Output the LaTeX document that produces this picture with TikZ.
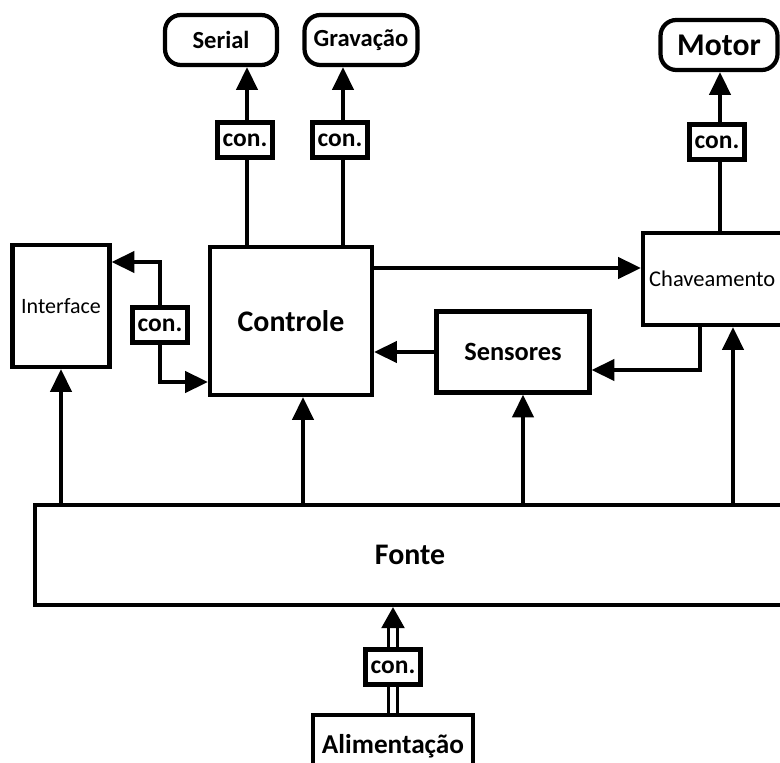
\documentclass[tikz,border=0pt]{standalone}
\usepackage{fontspec}
\setmainfont{Carlito}
\usetikzlibrary{arrows.meta}
\tikzset{
  blk/.style={draw,line width=2.4pt,inner sep=0pt,fill=white,font=\bfseries\fontsize{17}{20}\selectfont},
  ext/.style={blk,rounded corners=9pt,minimum height=1cm,font=\bfseries\fontsize{14}{16}\selectfont},
  conbox/.style={blk,minimum width=1.1cm,minimum height=0.7cm,font=\bfseries\fontsize{14.5}{16}\selectfont},
  arr/.style={line width=2.4pt,-{Triangle[length=13pt,width=12pt]}},
  wire/.style={line width=2.4pt}
}
\begin{document}
\begin{tikzpicture}[x=0.02cm,y=-0.02cm]
\useasboundingbox (0,0) rectangle (780,763);
\node[ext,minimum width=2.24cm] (serial) at (221,40) {Serial};
\node[ext,minimum width=2.26cm] (grav) at (361,40) {Gravação};
\node[ext,minimum width=2.34cm,font=\bfseries\fontsize{18}{20}\selectfont] (motor) at (719,45) {Motor};
\node[blk,minimum width=1.94cm,minimum height=2.44cm,font=\fontsize{12.5}{14}\selectfont] (interface) at (61,306) {Interface};
\node[blk,minimum width=2.84cm,minimum height=1.84cm,font=\fontsize{12.8}{15}\selectfont] (chav) at (714,279) {\hspace*{-2pt}Chaveamento};
\node[blk,minimum width=3.24cm,minimum height=2.96cm] (controle) at (291,321) {Controle};
\node[blk,minimum width=3.06cm,minimum height=1.62cm,font=\bfseries\fontsize{15}{17}\selectfont] (sensores) at (513,352) {Sensores};
\node[blk,minimum width=15cm,minimum height=2cm] (fonte) at (410,555) {Fonte};
\node[blk,minimum width=3.2cm,minimum height=1.24cm,anchor=north,font=\bfseries\fontsize{15.5}{18}\selectfont] (alim) at (393,713) {\raisebox{-4pt}{Alimentação}};
\coordinate (ctop) at (controle.north);
\draw[wire] (ctop -| 247,0) -- (247,140);
\draw[arr] (247,140) -- (serial.south -| 247,0);
\draw[wire] (ctop -| 343,0) -- (343,140);
\draw[arr] (343,140) -- (grav.south -| 343,0);
\draw[wire] (chav.north -| 720,0) -- (720,142);
\draw[arr] (720,142) -- (motor.south -| 720,0);
\node[conbox] (conS) at (245,140) {con.};
\node[conbox] (conG) at (340,140) {con.};
\node[conbox] (conM) at (717,142) {con.};
\draw[arr] (160,325) |- (interface.east |- 0,262);
\draw[arr] (160,325) |- (controle.west |- 0,382);
\node[conbox] (conI) at (160,325) {con.};
\draw[arr] (controle.east |- 0,268) -- (chav.west |- 0,268);
\draw[arr] (sensores.west) -- (sensores.west -| controle.east);
\draw[arr] (chav.south -| 700,0) |- (sensores.east |- 0,370);
\draw[arr] (fonte.north -| interface) -- (interface.south);
\draw[arr] (fonte.north -| 303,0) -- (controle.south -| 303,0);
\draw[arr] (fonte.north -| 523,0) -- (sensores.south -| 523,0);
\draw[arr] (fonte.north -| 733,0) -- (chav.south -| 733,0);
\draw[line width=1.8pt,double,double distance=3pt] (alim.north) -- (393,667);
\draw[line width=1.8pt,double,double distance=3pt,-{Triangle[length=12pt,width=13pt]}] (393,667) -- (fonte.south -| 393,0);
\node[conbox] (conA) at (393,667) {con.};
\end{tikzpicture}
\end{document}
